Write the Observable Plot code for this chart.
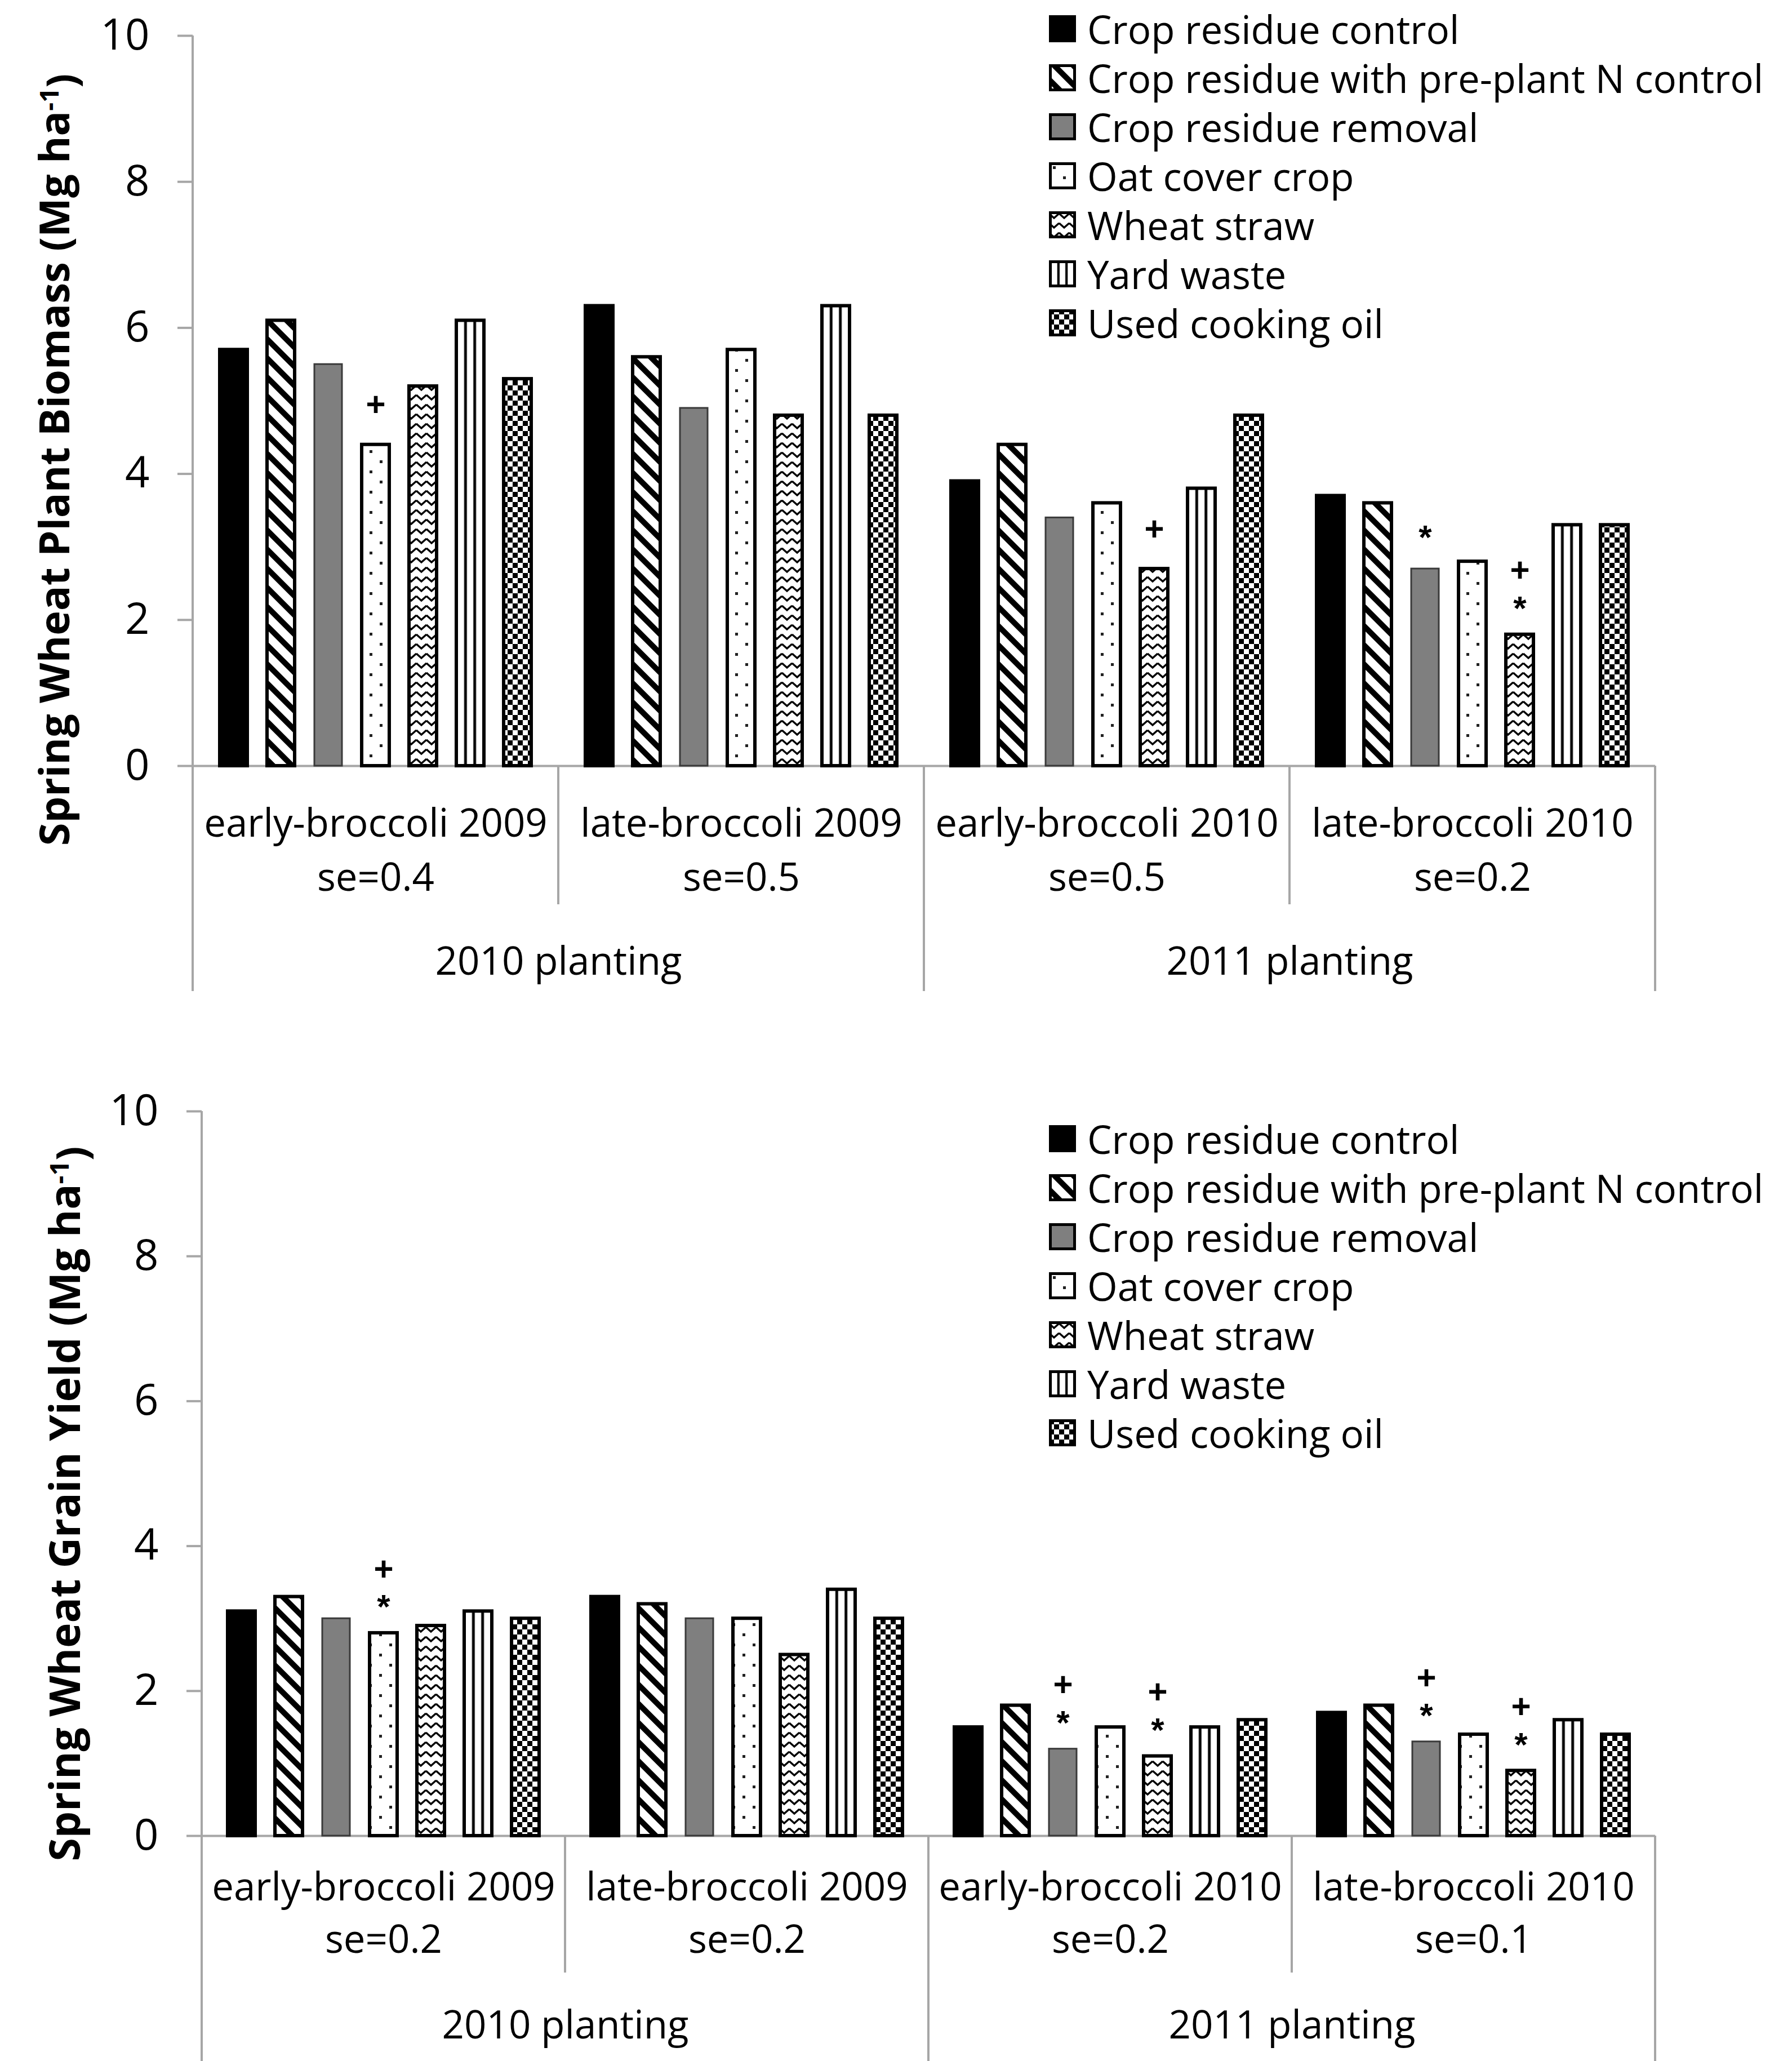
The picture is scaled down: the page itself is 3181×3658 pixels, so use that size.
<!DOCTYPE html>
<html>
<head>
<meta charset="utf-8">
<script src="https://cdn.jsdelivr.net/npm/d3@7"></script>
<script src="https://cdn.jsdelivr.net/npm/@observablehq/plot@0.6"></script>
<style>
  html, body { margin: 0; padding: 0; background: #fff; }
  body { width: 3181px; height: 3658px; position: relative; overflow: hidden; font-family: "Open Sans", sans-serif; }
  .chart { position: absolute; left: 0; }
  .legend { position: absolute; left: 1862px; font-family: "Open Sans", sans-serif; font-size: 69px; color: #000; }
  .legend .row { display: flex; align-items: center; height: 87px; white-space: nowrap; }
  .legend svg { margin-right: 20px; flex: none; }
</style>
</head>
<body>
<svg width="0" height="0" style="position:absolute;left:0;top:0">
  <defs>
    <pattern id="diag" patternUnits="userSpaceOnUse" width="24" height="24" patternTransform="rotate(-45)">
      <rect width="24" height="24" fill="#fff"/>
      <rect width="10" height="24" fill="#000"/>
    </pattern>
    <pattern id="dots" patternUnits="userSpaceOnUse" width="36" height="36">
      <rect width="36" height="36" fill="#fff"/>
      <rect x="7" y="7" width="5" height="5" fill="#222"/>
      <rect x="25" y="25" width="5" height="5" fill="#222"/>
    </pattern>
    <pattern id="zigzag" patternUnits="userSpaceOnUse" width="18" height="17">
      <rect width="18" height="17" fill="#fff"/>
      <path d="M0,4 L9,12 L18,4" fill="none" stroke="#000" stroke-width="3.5"/>
    </pattern>
    <pattern id="vlines" patternUnits="objectBoundingBox" patternContentUnits="objectBoundingBox" width="0.33333" height="1">
      <rect width="0.34" height="1" fill="#fff"/>
      <rect x="0" width="0.05" height="1" fill="#000"/>
      <rect x="0.2833" width="0.05" height="1" fill="#000"/>
    </pattern>
    <pattern id="checker" patternUnits="userSpaceOnUse" width="18" height="18">
      <rect width="18" height="18" fill="#fff"/>
      <rect width="9" height="9" fill="#000"/>
      <rect x="9" y="9" width="9" height="9" fill="#000"/>
    </pattern>
  </defs>
</svg>
<div id="top" class="chart" style="top:0px"></div>
<div id="bottom" class="chart" style="top:1830px"></div>
<div id="legendTop" class="legend" style="top:7px"></div>
<div id="legendBottom" class="legend" style="top:1977px"></div>
<script>
// ---------------- DATA ----------------
const treatments = [
  "Crop residue control",
  "Crop residue with pre-plant N control",
  "Crop residue removal",
  "Oat cover crop",
  "Wheat straw",
  "Yard waste",
  "Used cooking oil"
];
const groups = ["early-broccoli 2009", "late-broccoli 2009", "early-broccoli 2010", "late-broccoli 2010"];
const plantings = ["2010 planting", "2011 planting"];
const treatmentFills = ["#000000", "url(#diag)", "#7f7f7f", "url(#dots)", "url(#zigzag)", "url(#vlines)", "url(#checker)"];
const yTicks = [0, 2, 4, 6, 8, 10];

// Spring wheat plant biomass (Mg/ha), order = treatments
const biomassEarly2009 = [5.7, 6.1, 5.5, 4.4, 5.2, 6.1, 5.3];
const biomassLate2009  = [6.3, 5.6, 4.9, 5.7, 4.8, 6.3, 4.8];
const biomassEarly2010 = [3.9, 4.4, 3.4, 3.6, 2.7, 3.8, 4.8];
const biomassLate2010  = [3.7, 3.6, 2.7, 2.8, 1.8, 3.3, 3.3];
const biomassSE = ["0.4", "0.5", "0.5", "0.2"];
const biomassSig = [
  ["early-broccoli 2009", "Oat cover crop", "+"],
  ["early-broccoli 2010", "Wheat straw", "+"],
  ["late-broccoli 2010", "Crop residue removal", "*"],
  ["late-broccoli 2010", "Wheat straw", "+*"]
];

// Spring wheat grain yield (Mg/ha)
const yieldEarly2009 = [3.1, 3.3, 3.0, 2.8, 2.9, 3.1, 3.0];
const yieldLate2009  = [3.3, 3.2, 3.0, 3.0, 2.5, 3.4, 3.0];
const yieldEarly2010 = [1.5, 1.8, 1.2, 1.5, 1.1, 1.5, 1.6];
const yieldLate2010  = [1.7, 1.8, 1.3, 1.4, 0.9, 1.6, 1.4];
const yieldSE = ["0.2", "0.2", "0.2", "0.1"];
const yieldSig = [
  ["early-broccoli 2009", "Oat cover crop", "+*"],
  ["early-broccoli 2010", "Crop residue removal", "+*"],
  ["early-broccoli 2010", "Wheat straw", "+*"],
  ["late-broccoli 2010", "Crop residue removal", "+*"],
  ["late-broccoli 2010", "Wheat straw", "+*"]
];

// ---------------- BUILD ----------------
const FONT = "'Open Sans', sans-serif";
const MARK_FONT = "'Liberation Sans', Arial, sans-serif";
const AXIS_GRAY = "#a6a6a6";

function buildRows(valuesByGroup) {
  return groups.flatMap((g, gi) => treatments.map((t, ti) => ({group: g, treatment: t, value: valuesByGroup[gi][ti]})));
}
function buildSig(sig, rows) {
  return sig.map(([group, treatment, mark]) => ({
    group, treatment, mark,
    value: rows.find(r => r.group === group && r.treatment === treatment).value
  }));
}

// separators: y-axis line + group dividers below axis
const separators = [
  {group: groups[0], side: "left", long: true, axis: true},
  {group: groups[1], side: "left", long: false},
  {group: groups[2], side: "left", long: true},
  {group: groups[3], side: "left", long: false},
  {group: groups[3], side: "right", long: true}
];

function makeChart(cfg) {
  const rows = buildRows(cfg.values);
  const sig = buildSig(cfg.sig, rows);
  const groupRows = groups.map((g, i) => ({group: g, label: g + "\nse=" + cfg.se[i]}));
  const plantRows = plantings.map((p, i) => ({group: groups[i * 2], label: p}));
  const removal = treatments[2];

  const decor = Plot.text(separators, {
    x: null, y: null, text: null,
    facet: "super",
    render: (index, scales, values, dims) => {
      const {fx, y} = scales;
      const g = d3.create("svg:g");
      const lines = g.append("g").attr("stroke", AXIS_GRAY).attr("stroke-width", 4);
      for (const i of index) {
        const s = separators[i];
        const x = fx(s.group) + (s.side === "right" ? fx.bandwidth() : 0);
        lines.append("line")
          .attr("x1", x).attr("x2", x)
          .attr("y1", s.axis ? y(10) : y(0))
          .attr("y2", y(0) + (s.long ? cfg.longSep : cfg.shortSep));
      }
      const cy = (dims.marginTop + dims.height - dims.marginBottom) / 2 + cfg.titleShift;
      const t = g.append("text")
        .attr("transform", `translate(${dims.marginLeft - cfg.titleOffset},${cy}) rotate(-90)`)
        .attr("text-anchor", "middle")
        .attr("font-family", FONT)
        .attr("font-weight", "bold")
        .attr("font-size", cfg.titleSize)
        .attr("fill", "#000");
      t.append("tspan").text(cfg.title);
      t.append("tspan").attr("dy", "-0.42em").attr("font-size", cfg.titleSize * 0.62).text("-1");
      t.append("tspan").attr("dy", "0.42em").text(")");
      return g.node();
    }
  });

  return Plot.plot({
    width: 3181,
    height: cfg.height,
    marginTop: cfg.marginTop,
    marginBottom: cfg.marginBottom,
    marginLeft: cfg.marginLeft,
    marginRight: 243,
    style: {fontFamily: FONT, background: "#fff", color: "#000"},
    fx: {domain: groups, padding: 0, axis: null},
    x: {domain: treatments, paddingInner: 0.42, paddingOuter: 0.534, axis: null},
    y: {domain: [0, 10], axis: null},
    color: {type: "ordinal", domain: treatments, range: treatmentFills},
    marks: [
      Plot.axisY({ticks: yTicks, tickFormat: d => String(d), tickSize: 27, tickPadding: 50,
        fontSize: 76, stroke: AXIS_GRAY, strokeWidth: 4, fill: "#000", label: null}),
      Plot.ruleY([0], {stroke: AXIS_GRAY, strokeWidth: 4}),
      Plot.barY(rows, {fx: "group", x: "treatment", y: "value", fill: "treatment",
        filter: d => d.treatment !== removal, stroke: "#000", strokeWidth: 6}),
      Plot.barY(rows, {fx: "group", x: "treatment", y: "value", fill: "treatment",
        filter: d => d.treatment === removal, stroke: "#3a3a3a", strokeWidth: 3}),
      // significance markers
      Plot.text(sig, {fx: "group", x: "treatment", y: "value", text: () => "+",
        filter: d => d.mark === "+", dy: -70, fontSize: 60, fontWeight: "bold", fontFamily: MARK_FONT, fill: "#000"}),
      Plot.text(sig, {fx: "group", x: "treatment", y: "value", text: () => "*",
        filter: d => d.mark === "*", dy: -55, fontSize: 60, fontWeight: "bold", fontFamily: MARK_FONT, fill: "#000"}),
      Plot.text(sig, {fx: "group", x: "treatment", y: "value", text: () => "+\n*",
        filter: d => d.mark === "+*", lineAnchor: "bottom", lineHeight: 1.13, dy: -26,
        fontSize: 60, fontWeight: "bold", fontFamily: MARK_FONT, fill: "#000"}),
      // category labels
      Plot.text(groupRows, {fx: "group", text: "label", frameAnchor: "bottom", textAnchor: "middle",
        lineAnchor: "top", dy: cfg.labelDy, lineHeight: cfg.lineHeight, fontSize: 69, fill: "#000"}),
      Plot.text(plantRows, {fx: "group", text: "label", frameAnchor: "bottom-right", textAnchor: "middle",
        lineAnchor: "top", dy: cfg.plantDy, fontSize: 69, fill: "#000"}),
      decor
    ]
  });
}

const topChart = makeChart({
  values: [biomassEarly2009, biomassLate2009, biomassEarly2010, biomassLate2010],
  se: biomassSE, sig: biomassSig,
  height: 1830, marginTop: 63, marginBottom: 471, marginLeft: 341,
  shortSep: 246, longSep: 400, labelDy: 57, lineHeight: 1.39, plantDy: 321,
  title: "Spring Wheat Plant Biomass (Mg ha", titleSize: 74, titleOffset: 219, titleShift: 105
});
const bottomChart = makeChart({
  values: [yieldEarly2009, yieldLate2009, yieldEarly2010, yieldLate2010],
  se: yieldSE, sig: yieldSig,
  height: 1828, marginTop: 142, marginBottom: 400, marginLeft: 358,
  shortSep: 243, longSep: 400, labelDy: 48, lineHeight: 1.35, plantDy: 310,
  title: "Spring Wheat Grain Yield (Mg ha", titleSize: 75, titleOffset: 216, titleShift: 54
});
document.getElementById("top").appendChild(topChart);
document.getElementById("bottom").appendChild(bottomChart);

// ---------------- LEGENDS ----------------
function buildLegend(el) {
  const div = d3.select(el);
  treatments.forEach((t, i) => {
    const row = div.append("div").attr("class", "row");
    const sw = row.append("svg").attr("width", 48).attr("height", 48);
    sw.append("rect").attr("x", 2.5).attr("y", 2.5).attr("width", 43).attr("height", 43)
      .attr("fill", treatmentFills[i]).attr("stroke", "#000").attr("stroke-width", 5);
    row.append("span").text(t);
  });
}
buildLegend(document.getElementById("legendTop"));
buildLegend(document.getElementById("legendBottom"));
</script>
</body>
</html>
